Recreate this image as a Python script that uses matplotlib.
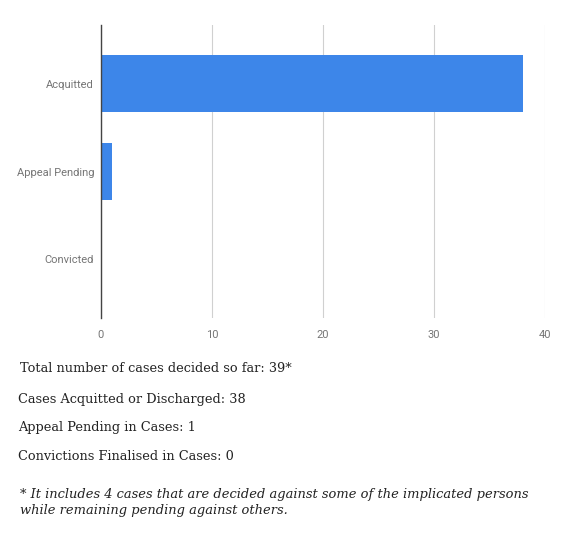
import matplotlib
matplotlib.use("Agg")
import matplotlib.pyplot as plt

categories = ["Acquitted", "Appeal Pending", "Convicted"]
values = [38, 1, 0]
xticks = [0, 10, 20, 30, 40]

summary_lines = [
    "Total number of cases decided so far: 39*",
    "Cases Acquitted or Discharged: 38",
    "Appeal Pending in Cases: 1",
    "Convictions Finalised in Cases: 0",
]
footnote = ("* It includes 4 cases that are decided against some of the implicated persons\n"
            "while remaining pending against others.")

W, H = 570, 554
fig = plt.figure(figsize=(W / 100, H / 100), dpi=100)
# axes: x from 101 to 545 px, y from 25 to 318 px
ax = fig.add_axes([101 / W, 1 - 318 / H, (545 - 101) / W, (318 - 25) / H])

ypos = list(range(len(categories)))
ax.barh(ypos, values, height=0.65, color="#3d86e9", zorder=3)
ax.set_ylim(2.67, -0.67)
ax.set_xlim(0, 40)
ax.set_xticks(xticks)
ax.set_yticks(ypos)
ax.set_yticklabels(categories)
for s in ["top", "right", "bottom"]:
    ax.spines[s].set_visible(False)
ax.spines["left"].set_color("#444444")
ax.spines["left"].set_linewidth(1.0)
ax.spines["left"].set_zorder(4)
ax.grid(axis="x", color="#d0d0d0", linewidth=0.8, zorder=0)
ax.tick_params(axis="both", length=0, labelsize=8, labelcolor="#757575")
ax.tick_params(axis="y", pad=5)
ax.tick_params(axis="x", pad=9)
for lab in ax.get_xticklabels() + ax.get_yticklabels():
    lab.set_fontfamily("Roboto")

ys = [368, 400, 428, 456]
xs = [20, 18, 18, 18]
for x, y, t in zip(xs, ys, summary_lines):
    fig.text(x / W, 1 - y / H, t, fontsize=9.3, family="DejaVu Serif",
             color="#222222", va="center", ha="left")
fig.text(20 / W, 1 - 502.5 / H, footnote, fontsize=9.4, family="DejaVu Serif",
         style="italic", color="#222222", va="center", ha="left", linespacing=1.25)

fig.savefig("out.png", dpi=100, facecolor="white")
